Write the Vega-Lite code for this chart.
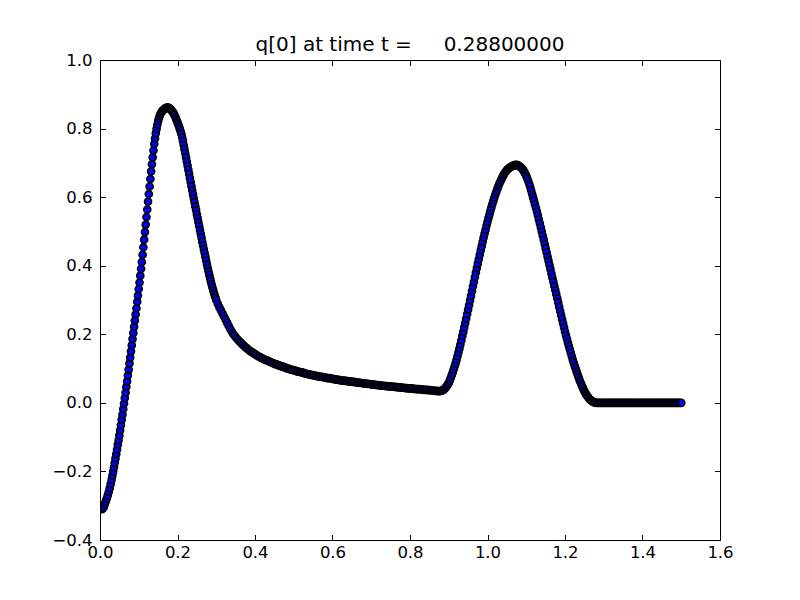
{
"$schema": "https://vega.github.io/schema/vega-lite/v6.json",
"width": 620,
"height": 480,
"autosize": {"type": "none"},
"padding": {"left": 100, "top": 60, "right": 80, "bottom": 60},
"background": "white",
"config": {"view": {"stroke": "black", "strokeWidth": 1}, "font": "DejaVu Sans"},
"title": {"text": "q[0] at time t = \u00a0\u00a0\u00a0\u00a00.28800000", "fontSize": 20, "font": "DejaVu Sans", "fontWeight": "normal", "color": "black", "anchor": "middle", "baseline": "alphabetic", "offset": -19},
"data": {"values": [
{"x":0.0,"y":-0.305},{"x":0.0025,"y":-0.309},{"x":0.005,"y":-0.31},{"x":0.0075,"y":-0.308},{"x":0.01,"y":-0.303},{"x":0.0125,"y":-0.295},{"x":0.015,"y":-0.287},{"x":0.0175,"y":-0.279},{"x":0.02,"y":-0.27},{"x":0.0225,"y":-0.26},{"x":0.025,"y":-0.249},{"x":0.0275,"y":-0.237},{"x":0.03,"y":-0.224},
{"x":0.032,"y":-0.212},{"x":0.034,"y":-0.2},{"x":0.036,"y":-0.188},{"x":0.038,"y":-0.175},{"x":0.04,"y":-0.162},{"x":0.042,"y":-0.149},{"x":0.044,"y":-0.136},{"x":0.046,"y":-0.122},{"x":0.048,"y":-0.109},{"x":0.05,"y":-0.095},
{"x":0.052,"y":-0.08},{"x":0.054,"y":-0.065},{"x":0.056,"y":-0.049},{"x":0.058,"y":-0.034},{"x":0.06,"y":-0.018},{"x":0.062,"y":-0.002},{"x":0.064,"y":0.014},{"x":0.066,"y":0.03},{"x":0.068,"y":0.047},{"x":0.07,"y":0.063},
{"x":0.072,"y":0.08},{"x":0.074,"y":0.097},{"x":0.076,"y":0.115},{"x":0.078,"y":0.132},{"x":0.08,"y":0.15},{"x":0.082,"y":0.168},{"x":0.084,"y":0.186},{"x":0.086,"y":0.204},{"x":0.088,"y":0.222},{"x":0.09,"y":0.24},
{"x":0.092,"y":0.258},{"x":0.094,"y":0.276},{"x":0.096,"y":0.295},{"x":0.098,"y":0.313},{"x":0.1,"y":0.332},{"x":0.102,"y":0.351},{"x":0.104,"y":0.371},{"x":0.106,"y":0.391},{"x":0.108,"y":0.411},{"x":0.11,"y":0.432},
{"x":0.112,"y":0.454},{"x":0.114,"y":0.476},{"x":0.116,"y":0.498},{"x":0.118,"y":0.52},{"x":0.12,"y":0.542},{"x":0.122,"y":0.564},{"x":0.124,"y":0.587},{"x":0.126,"y":0.609},{"x":0.128,"y":0.631},{"x":0.13,"y":0.653},
{"x":0.132,"y":0.675},{"x":0.134,"y":0.696},{"x":0.136,"y":0.716},{"x":0.138,"y":0.736},{"x":0.14,"y":0.755},{"x":0.142,"y":0.771},{"x":0.144,"y":0.786},{"x":0.146,"y":0.799},{"x":0.148,"y":0.811},{"x":0.15,"y":0.822},
{"x":0.152,"y":0.83},{"x":0.154,"y":0.837},{"x":0.156,"y":0.843},{"x":0.158,"y":0.847},{"x":0.16,"y":0.85},{"x":0.162,"y":0.853},{"x":0.164,"y":0.855},{"x":0.166,"y":0.857},{"x":0.168,"y":0.859},{"x":0.17,"y":0.86},
{"x":0.172,"y":0.861},{"x":0.174,"y":0.861},{"x":0.176,"y":0.861},{"x":0.178,"y":0.86},{"x":0.18,"y":0.858},{"x":0.182,"y":0.856},{"x":0.184,"y":0.854},{"x":0.186,"y":0.851},{"x":0.188,"y":0.848},{"x":0.19,"y":0.845},
{"x":0.192,"y":0.84},{"x":0.194,"y":0.835},{"x":0.196,"y":0.83},{"x":0.198,"y":0.824},{"x":0.2,"y":0.818},{"x":0.202,"y":0.812},{"x":0.204,"y":0.806},{"x":0.206,"y":0.799},{"x":0.208,"y":0.792},{"x":0.21,"y":0.785},
{"x":0.212,"y":0.775},{"x":0.214,"y":0.764},{"x":0.216,"y":0.752},{"x":0.218,"y":0.74},{"x":0.22,"y":0.728},{"x":0.222,"y":0.716},{"x":0.224,"y":0.704},{"x":0.226,"y":0.692},{"x":0.228,"y":0.68},{"x":0.23,"y":0.668},
{"x":0.232,"y":0.656},{"x":0.234,"y":0.644},{"x":0.236,"y":0.632},{"x":0.238,"y":0.62},{"x":0.24,"y":0.608},{"x":0.242,"y":0.596},{"x":0.244,"y":0.585},{"x":0.246,"y":0.573},{"x":0.248,"y":0.562},{"x":0.25,"y":0.55},
{"x":0.252,"y":0.539},{"x":0.254,"y":0.527},{"x":0.256,"y":0.516},{"x":0.258,"y":0.504},{"x":0.26,"y":0.493},{"x":0.262,"y":0.482},{"x":0.264,"y":0.47},{"x":0.266,"y":0.459},{"x":0.268,"y":0.448},{"x":0.27,"y":0.437},
{"x":0.272,"y":0.426},{"x":0.274,"y":0.415},{"x":0.276,"y":0.404},{"x":0.278,"y":0.394},{"x":0.28,"y":0.384},{"x":0.282,"y":0.374},{"x":0.284,"y":0.364},{"x":0.286,"y":0.355},{"x":0.288,"y":0.346},{"x":0.29,"y":0.337},
{"x":0.292,"y":0.329},{"x":0.294,"y":0.321},{"x":0.296,"y":0.314},{"x":0.298,"y":0.307},{"x":0.3,"y":0.3},
{"x":0.304,"y":0.289},{"x":0.308,"y":0.279},{"x":0.312,"y":0.27},{"x":0.316,"y":0.261},{"x":0.32,"y":0.252},{"x":0.324,"y":0.243},{"x":0.328,"y":0.234},{"x":0.332,"y":0.225},{"x":0.336,"y":0.216},{"x":0.34,"y":0.208},
{"x":0.344,"y":0.201},{"x":0.348,"y":0.195},{"x":0.352,"y":0.189},{"x":0.356,"y":0.184},{"x":0.36,"y":0.179},{"x":0.364,"y":0.175},{"x":0.368,"y":0.17},{"x":0.372,"y":0.166},{"x":0.376,"y":0.162},{"x":0.38,"y":0.158},
{"x":0.384,"y":0.154},{"x":0.388,"y":0.151},{"x":0.392,"y":0.148},{"x":0.396,"y":0.145},{"x":0.4,"y":0.142},{"x":0.404,"y":0.139},{"x":0.408,"y":0.136},{"x":0.412,"y":0.134},{"x":0.416,"y":0.131},{"x":0.42,"y":0.129},
{"x":0.424,"y":0.127},{"x":0.428,"y":0.125},{"x":0.432,"y":0.123},{"x":0.436,"y":0.121},{"x":0.44,"y":0.119},{"x":0.444,"y":0.117},{"x":0.448,"y":0.115},{"x":0.452,"y":0.113},{"x":0.456,"y":0.112},{"x":0.46,"y":0.11},
{"x":0.464,"y":0.108},{"x":0.468,"y":0.107},{"x":0.472,"y":0.105},{"x":0.476,"y":0.104},{"x":0.48,"y":0.102},{"x":0.484,"y":0.1},{"x":0.488,"y":0.099},{"x":0.492,"y":0.097},{"x":0.496,"y":0.096},{"x":0.5,"y":0.095},
{"x":0.504,"y":0.094},{"x":0.508,"y":0.092},{"x":0.512,"y":0.091},{"x":0.516,"y":0.09},{"x":0.52,"y":0.089},{"x":0.524,"y":0.088},{"x":0.528,"y":0.086},{"x":0.532,"y":0.085},{"x":0.536,"y":0.084},{"x":0.54,"y":0.083},
{"x":0.544,"y":0.082},{"x":0.548,"y":0.081},{"x":0.552,"y":0.08},{"x":0.556,"y":0.079},{"x":0.56,"y":0.078},{"x":0.564,"y":0.077},{"x":0.568,"y":0.076},{"x":0.572,"y":0.076},{"x":0.576,"y":0.075},{"x":0.58,"y":0.074},
{"x":0.584,"y":0.073},{"x":0.588,"y":0.072},{"x":0.592,"y":0.072},{"x":0.596,"y":0.071},{"x":0.6,"y":0.07},{"x":0.604,"y":0.069},{"x":0.608,"y":0.068},{"x":0.612,"y":0.068},{"x":0.616,"y":0.067},{"x":0.62,"y":0.066},
{"x":0.624,"y":0.065},{"x":0.628,"y":0.065},{"x":0.632,"y":0.064},{"x":0.636,"y":0.064},{"x":0.64,"y":0.063},{"x":0.644,"y":0.062},{"x":0.648,"y":0.062},{"x":0.652,"y":0.061},{"x":0.656,"y":0.061},{"x":0.66,"y":0.06},
{"x":0.664,"y":0.059},{"x":0.668,"y":0.059},{"x":0.672,"y":0.058},{"x":0.676,"y":0.058},{"x":0.68,"y":0.057},{"x":0.684,"y":0.056},{"x":0.688,"y":0.056},{"x":0.692,"y":0.055},{"x":0.696,"y":0.055},{"x":0.7,"y":0.054},
{"x":0.704,"y":0.053},{"x":0.708,"y":0.053},{"x":0.712,"y":0.052},{"x":0.716,"y":0.052},{"x":0.72,"y":0.051},{"x":0.724,"y":0.051},{"x":0.728,"y":0.05},{"x":0.732,"y":0.05},{"x":0.736,"y":0.049},{"x":0.74,"y":0.049},
{"x":0.744,"y":0.048},{"x":0.748,"y":0.048},{"x":0.752,"y":0.048},{"x":0.756,"y":0.047},{"x":0.76,"y":0.047},{"x":0.764,"y":0.046},{"x":0.768,"y":0.046},{"x":0.772,"y":0.045},{"x":0.776,"y":0.045},{"x":0.78,"y":0.044},
{"x":0.784,"y":0.044},{"x":0.788,"y":0.043},{"x":0.792,"y":0.043},{"x":0.796,"y":0.042},{"x":0.8,"y":0.042},{"x":0.804,"y":0.042},{"x":0.808,"y":0.041},{"x":0.812,"y":0.041},{"x":0.816,"y":0.04},{"x":0.82,"y":0.04},
{"x":0.824,"y":0.04},{"x":0.828,"y":0.039},{"x":0.832,"y":0.039},{"x":0.836,"y":0.038},{"x":0.84,"y":0.038},{"x":0.844,"y":0.038},{"x":0.848,"y":0.037},{"x":0.852,"y":0.037},{"x":0.856,"y":0.036},{"x":0.86,"y":0.036},
{"x":0.864,"y":0.035},{"x":0.868,"y":0.035},{"x":0.872,"y":0.034},{"x":0.876,"y":0.034},{"x":0.88,"y":0.035},
{"x":0.8825,"y":0.036},{"x":0.885,"y":0.037},{"x":0.8875,"y":0.039},{"x":0.89,"y":0.042},{"x":0.8925,"y":0.045},{"x":0.895,"y":0.049},{"x":0.8975,"y":0.053},{"x":0.9,"y":0.058},
{"x":0.9025,"y":0.065},{"x":0.905,"y":0.072},{"x":0.9075,"y":0.08},{"x":0.91,"y":0.088},{"x":0.9125,"y":0.097},{"x":0.915,"y":0.106},{"x":0.9175,"y":0.115},{"x":0.92,"y":0.125},
{"x":0.9225,"y":0.136},{"x":0.925,"y":0.147},{"x":0.9275,"y":0.158},{"x":0.93,"y":0.17},{"x":0.9325,"y":0.182},{"x":0.935,"y":0.195},{"x":0.9375,"y":0.207},{"x":0.94,"y":0.22},
{"x":0.9425,"y":0.233},{"x":0.945,"y":0.246},{"x":0.9475,"y":0.259},{"x":0.95,"y":0.272},{"x":0.9525,"y":0.285},{"x":0.955,"y":0.299},{"x":0.9575,"y":0.312},{"x":0.96,"y":0.326},
{"x":0.9625,"y":0.34},{"x":0.965,"y":0.353},{"x":0.9675,"y":0.367},{"x":0.97,"y":0.38},{"x":0.9725,"y":0.393},{"x":0.975,"y":0.406},{"x":0.9775,"y":0.419},{"x":0.98,"y":0.432},
{"x":0.9825,"y":0.445},{"x":0.985,"y":0.457},{"x":0.9875,"y":0.47},{"x":0.99,"y":0.482},{"x":0.9925,"y":0.494},{"x":0.995,"y":0.505},{"x":0.9975,"y":0.517},{"x":1.0,"y":0.528},
{"x":1.0025,"y":0.539},{"x":1.005,"y":0.549},{"x":1.0075,"y":0.56},{"x":1.01,"y":0.57},{"x":1.0125,"y":0.58},{"x":1.015,"y":0.589},{"x":1.0175,"y":0.598},{"x":1.02,"y":0.607},
{"x":1.0225,"y":0.615},{"x":1.025,"y":0.623},{"x":1.0275,"y":0.631},{"x":1.03,"y":0.638},{"x":1.0325,"y":0.644},{"x":1.035,"y":0.65},{"x":1.0375,"y":0.656},{"x":1.04,"y":0.662},
{"x":1.0425,"y":0.667},{"x":1.045,"y":0.671},{"x":1.0475,"y":0.675},{"x":1.05,"y":0.679},{"x":1.0525,"y":0.682},{"x":1.055,"y":0.684},{"x":1.0575,"y":0.686},{"x":1.06,"y":0.688},
{"x":1.0625,"y":0.69},{"x":1.065,"y":0.691},{"x":1.0675,"y":0.692},{"x":1.07,"y":0.693},{"x":1.0725,"y":0.694},{"x":1.075,"y":0.694},{"x":1.0775,"y":0.693},{"x":1.08,"y":0.692},
{"x":1.0825,"y":0.69},{"x":1.085,"y":0.688},{"x":1.0875,"y":0.685},{"x":1.09,"y":0.682},{"x":1.0925,"y":0.678},{"x":1.095,"y":0.673},{"x":1.0975,"y":0.668},{"x":1.1,"y":0.662},
{"x":1.1025,"y":0.655},{"x":1.105,"y":0.647},{"x":1.1075,"y":0.639},{"x":1.11,"y":0.63},{"x":1.1125,"y":0.62},{"x":1.115,"y":0.61},{"x":1.1175,"y":0.6},{"x":1.12,"y":0.59},
{"x":1.1225,"y":0.579},{"x":1.125,"y":0.569},{"x":1.1275,"y":0.558},{"x":1.13,"y":0.547},{"x":1.1325,"y":0.535},{"x":1.135,"y":0.524},{"x":1.1375,"y":0.512},{"x":1.14,"y":0.5},
{"x":1.1425,"y":0.488},{"x":1.145,"y":0.476},{"x":1.1475,"y":0.463},{"x":1.15,"y":0.451},{"x":1.1525,"y":0.439},{"x":1.155,"y":0.426},{"x":1.1575,"y":0.414},{"x":1.16,"y":0.402},
{"x":1.1625,"y":0.39},{"x":1.165,"y":0.377},{"x":1.1675,"y":0.365},{"x":1.17,"y":0.353},{"x":1.1725,"y":0.341},{"x":1.175,"y":0.329},{"x":1.1775,"y":0.317},{"x":1.18,"y":0.305},
{"x":1.1825,"y":0.293},{"x":1.185,"y":0.28},{"x":1.1875,"y":0.268},{"x":1.19,"y":0.256},{"x":1.1925,"y":0.244},{"x":1.195,"y":0.232},{"x":1.1975,"y":0.22},{"x":1.2,"y":0.208},
{"x":1.2025,"y":0.197},{"x":1.205,"y":0.187},{"x":1.2075,"y":0.176},{"x":1.21,"y":0.166},{"x":1.2125,"y":0.156},{"x":1.215,"y":0.146},{"x":1.2175,"y":0.136},{"x":1.22,"y":0.126},
{"x":1.2225,"y":0.117},{"x":1.225,"y":0.108},{"x":1.2275,"y":0.1},{"x":1.23,"y":0.091},{"x":1.2325,"y":0.083},{"x":1.235,"y":0.075},{"x":1.2375,"y":0.067},{"x":1.24,"y":0.06},
{"x":1.2425,"y":0.053},{"x":1.245,"y":0.046},{"x":1.2475,"y":0.04},{"x":1.25,"y":0.034},{"x":1.2525,"y":0.029},{"x":1.255,"y":0.024},{"x":1.2575,"y":0.02},{"x":1.26,"y":0.016},
{"x":1.2625,"y":0.012},{"x":1.265,"y":0.009},{"x":1.2675,"y":0.007},{"x":1.27,"y":0.005},{"x":1.2725,"y":0.003},{"x":1.275,"y":0.002},{"x":1.2775,"y":0.001},{"x":1.28,"y":0.0},
{"x":1.284,"y":0.0},{"x":1.288,"y":0.0},{"x":1.292,"y":0.0},{"x":1.296,"y":0.0},{"x":1.3,"y":0.0},{"x":1.304,"y":0.0},{"x":1.308,"y":0.0},{"x":1.312,"y":0.0},{"x":1.316,"y":0.0},{"x":1.32,"y":0.0},
{"x":1.324,"y":0.0},{"x":1.328,"y":0.0},{"x":1.332,"y":0.0},{"x":1.336,"y":0.0},{"x":1.34,"y":0.0},{"x":1.344,"y":0.0},{"x":1.348,"y":0.0},{"x":1.352,"y":0.0},{"x":1.356,"y":0.0},{"x":1.36,"y":0.0},
{"x":1.364,"y":0.0},{"x":1.368,"y":0.0},{"x":1.372,"y":0.0},{"x":1.376,"y":0.0},{"x":1.38,"y":0.0},{"x":1.384,"y":0.0},{"x":1.388,"y":0.0},{"x":1.392,"y":0.0},{"x":1.396,"y":0.0},{"x":1.4,"y":0.0},
{"x":1.404,"y":0.0},{"x":1.408,"y":0.0},{"x":1.412,"y":0.0},{"x":1.416,"y":0.0},{"x":1.42,"y":0.0},{"x":1.424,"y":0.0},{"x":1.428,"y":0.0},{"x":1.432,"y":0.0},{"x":1.436,"y":0.0},{"x":1.44,"y":0.0},
{"x":1.444,"y":0.0},{"x":1.448,"y":0.0},{"x":1.452,"y":0.0},{"x":1.456,"y":0.0},{"x":1.46,"y":0.0},{"x":1.464,"y":0.0},{"x":1.468,"y":0.0},{"x":1.472,"y":0.0},{"x":1.476,"y":0.0},{"x":1.48,"y":0.0},
{"x":1.484,"y":0.0},{"x":1.488,"y":0.0},{"x":1.492,"y":0.0},{"x":1.496,"y":0.0},{"x":1.5,"y":0.0}
]},
"layer": [
{"mark": {"type": "point", "shape": "circle", "filled": true, "fill": "#0000ff", "stroke": "black", "strokeWidth": 1.6, "size": 50, "opacity": 1, "fillOpacity": 1, "strokeOpacity": 1, "clip": true},
 "encoding": {
  "x": {"field": "x", "type": "quantitative", "scale": {"domain": [0, 1.6], "nice": false, "zero": false},
        "axis": {"orient": "bottom", "title": null, "values": [0, 0.2, 0.4, 0.6, 0.8, 1.0, 1.2, 1.4, 1.6], "format": ".1f", "grid": false, "domain": false, "tickSize": -5.5, "tickColor": "black", "tickWidth": 1, "labelPadding": 9.5, "labelFontSize": 16.5, "labelFont": "DejaVu Sans", "labelColor": "black", "labelFlush": false, "labelOverlap": false}},
  "y": {"field": "y", "type": "quantitative", "scale": {"domain": [-0.4, 1.0], "nice": false, "zero": false},
        "axis": {"orient": "left", "title": null, "values": [-0.4, -0.2, 0, 0.2, 0.4, 0.6, 0.8, 1.0], "format": ".1f", "grid": false, "domain": false, "tickSize": -5.5, "tickColor": "black", "tickWidth": 1, "labelPadding": 13.5, "labelFontSize": 16.5, "labelFont": "DejaVu Sans", "labelColor": "black", "labelFlush": false, "labelOverlap": false}}
 }},
{"mark": {"type": "point", "opacity": 0},
 "encoding": {
  "x": {"field": "x", "type": "quantitative", "scale": {"domain": [0, 1.6], "nice": false, "zero": false},
        "axis": {"orient": "top", "title": null, "values": [0, 0.2, 0.4, 0.6, 0.8, 1.0, 1.2, 1.4, 1.6], "labels": false, "grid": false, "domain": false, "tickSize": -5.5, "tickColor": "black", "tickWidth": 1}},
  "y": {"field": "y", "type": "quantitative", "scale": {"domain": [-0.4, 1.0], "nice": false, "zero": false},
        "axis": {"orient": "right", "title": null, "values": [-0.4, -0.2, 0, 0.2, 0.4, 0.6, 0.8, 1.0], "labels": false, "grid": false, "domain": false, "tickSize": -5.5, "tickColor": "black", "tickWidth": 1}}
 }}
],
"resolve": {"axis": {"x": "independent", "y": "independent"}}
}
